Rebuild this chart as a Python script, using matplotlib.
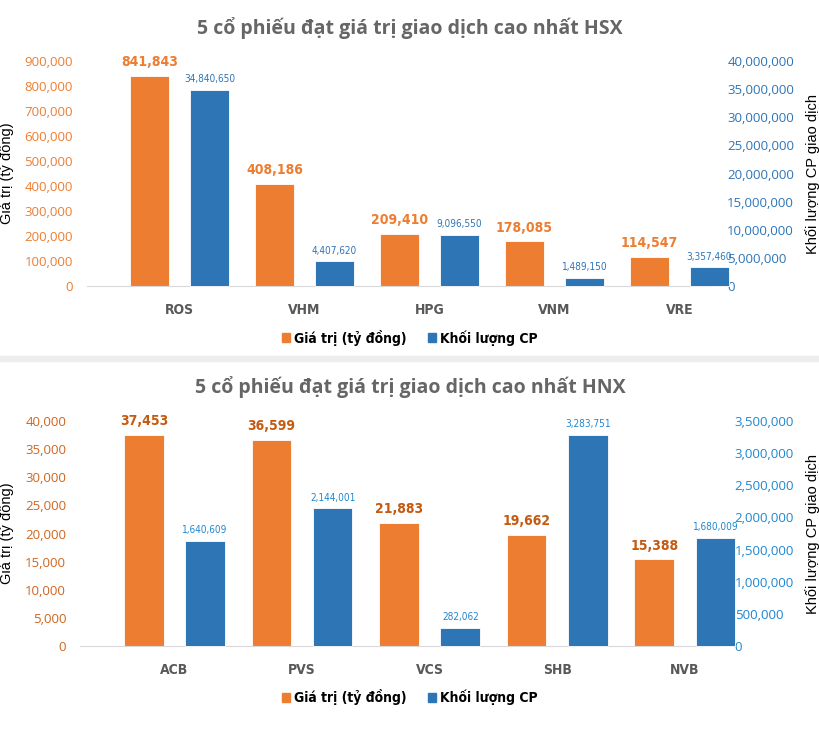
import numpy as np
import matplotlib.pyplot as plt
from matplotlib.patches import Patch, Rectangle
from matplotlib.ticker import FuncFormatter

plt.rcParams['font.family'] = ['Open Sans', 'DejaVu Sans']

# data
hsx_codes = ['ROS', 'VHM', 'HPG', 'VNM', 'VRE']
hsx_value = [841843, 408186, 209410, 178085, 114547]
hsx_volume = [34840650, 4407620, 9096550, 1489150, 3357460]

hnx_codes = ['ACB', 'PVS', 'VCS', 'SHB', 'NVB']
hnx_value = [37453, 36599, 21883, 19662, 15388]
hnx_volume = [1640609, 2144001, 282062, 3283751, 1680009]

ORANGE = '#ED7D31'
BLUE = '#2E75B6'
COND = dict(family='DejaVu Sans', stretch='condensed')

fig = plt.figure(figsize=(8.2, 7.44), dpi=100)
comma = FuncFormatter(lambda v, p: f'{v:,.0f}')


def panel(rect, title, title_y, codes, value, volume, lmax, lstep, rmax, rstep,
          lcolor, rcolor, lab_color, leg_y, lpad, rpad):
    ax = fig.add_axes(rect)
    ax2 = ax.twinx()
    x = np.arange(len(codes))
    w = 0.31
    ax.bar(x, value, w, color=ORANGE, edgecolor='white', linewidth=0.6, zorder=2)
    bars = ax2.bar(x + 0.48, volume, w, color=BLUE, edgecolor='white', linewidth=0.6, zorder=2)
    for b in bars:
        b.set_clip_on(False)
    ax.set_xlim(-0.5, 4.5)
    ax.set_ylim(0, lmax)
    ax2.set_ylim(0, rmax)
    ax.set_yticks(np.arange(0, lmax + 1, lstep))
    ax2.set_yticks(np.arange(0, rmax + 1, rstep))
    ax.yaxis.set_major_formatter(comma)
    ax2.yaxis.set_major_formatter(comma)
    ax.set_xticks(x + 0.24)
    ax.set_xticklabels(codes, fontweight='bold', fontsize=10, color='#595959', **COND)
    ax.tick_params(axis='x', length=0, pad=12)
    ax.tick_params(axis='y', length=0, labelsize=9.5, labelcolor=lcolor, pad=lpad)
    ax2.tick_params(axis='y', length=0, labelsize=9.5, labelcolor=rcolor, pad=rpad)
    for a in (ax, ax2):
        for s in a.spines.values():
            s.set_visible(False)
    ax.spines['bottom'].set_visible(True)
    ax.spines['bottom'].set_color('#D9D9D9')
    for xi, v in zip(x, value):
        ax.annotate(f'{v:,}', (xi, v), xytext=(0, 5), textcoords='offset points',
                    ha='center', va='bottom', fontweight='bold',
                    fontsize=10, color=lab_color, **COND)
    for xi, v in zip(x, volume):
        ax2.annotate(f'{v:,}', (xi + 0.48, v), xytext=(0, 4), textcoords='offset points',
                     ha='center', va='bottom', fontsize=7.2, color=rcolor,
                     annotation_clip=False, **COND)
    ax.set_ylabel('Giá trị (tỷ đồng)', family='Liberation Sans', fontsize=10.5)
    ax2.set_ylabel('Khối lượng CP giao dịch', family='Liberation Sans', fontsize=10.5)
    width_px = rect[2] * 820
    left_px = rect[0] * 820
    ax.yaxis.set_label_coords((14 - left_px) / width_px, 0.5)
    ax2.yaxis.set_label_coords((805 - left_px) / width_px, 0.5)
    fig.text(0.5, title_y, title, ha='center', va='center', fontsize=14,
             fontweight='bold', color='#666666')
    handles = [Patch(color=ORANGE, label='Giá trị (tỷ đồng)'),
               Patch(color=BLUE, label='Khối lượng CP')]
    fig.legend(handles=handles, loc='center', bbox_to_anchor=(0.5, leg_y), ncol=2,
               frameon=False, handlelength=0.6, handleheight=0.6, handletextpad=0.3,
               columnspacing=1.5, prop={'family': 'DejaVu Sans', 'stretch': 'condensed',
                                        'weight': 'bold', 'size': 10})
    return ax, ax2


panel([0.1061, 0.6156, 0.7622, 0.3024], '5 cổ phiếu đạt giá trị giao dịch cao nhất HSX', 0.962,
      hsx_codes, hsx_value, hsx_volume, 900000, 100000, 40000000, 5000000,
      ORANGE, BLUE, ORANGE, 0.546, 10, 11)
panel([0.0976, 0.1317, 0.778, 0.3024], '5 cổ phiếu đạt giá trị giao dịch cao nhất HNX', 0.4805,
      hnx_codes, hnx_value, hnx_volume, 40000, 5000, 3500000, 500000,
      '#D0651E', '#1F87D0', '#C55A11', 0.063, 10, 12)

# separator band between the two charts
fig.patches.append(Rectangle((0, 1 - 361 / 744), 1, 5 / 744, transform=fig.transFigure,
                             color='#EDEDED', zorder=0))

fig.savefig('out.png', dpi=100)
